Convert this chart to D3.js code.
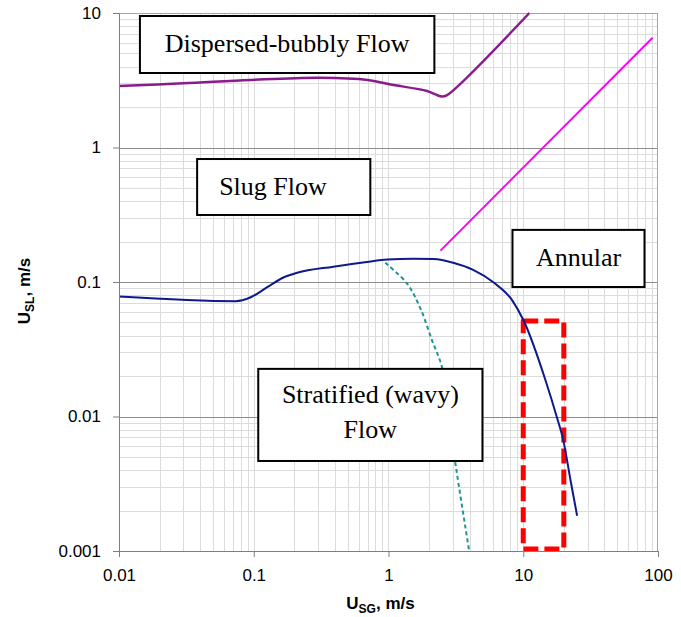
<!DOCTYPE html>
<html>
<head>
<meta charset="utf-8">
<script src="https://cdn.jsdelivr.net/npm/d3@7"></script>
<style>
  body { margin: 0; background: #fff; }
</style>
</head>
<body>
<div id="chart"></div>
<script>
// boundary curves (USG, USL in m/s)
const bubblyX = [0.01, 0.03, 0.095, 0.31, 0.7, 1.02, 1.93, 2.23, 2.5, 2.72, 11.1];
const bubblyY = [2.87, 3.0, 3.18, 3.3, 3.18, 2.95, 2.63, 2.48, 2.39, 2.45, 10];

const annularX = [2.43, 91.2];
const annularY = [0.171, 6.55];

const stratX = [0.01, 0.0735, 0.095, 0.126, 0.166, 0.21, 0.39, 0.69, 0.98, 1.53, 2.15, 3.02, 4.25, 6.0, 8.26, 10.1, 14.6, 17.7, 19.8, 22.5, 25.1];
const stratY = [0.078, 0.072, 0.077, 0.0915, 0.108, 0.117, 0.13, 0.141, 0.147, 0.149, 0.148, 0.139, 0.123, 0.0995, 0.0734, 0.0513, 0.0187, 0.01, 0.0067, 0.0033, 0.00183];

const wavyX = [0.946, 1.37, 1.72, 2.1, 2.49, 2.8, 3.11, 3.97];
const wavyY = [0.139, 0.0977, 0.064, 0.037, 0.0234, 0.0103, 0.00475, 0.001];

const xTicks = [0.01, 0.1, 1, 10, 100];
const yTicks = [0.001, 0.01, 0.1, 1, 10];
const xTickLabels = ["0.01", "0.1", "1", "10", "100"];
const yTickLabels = ["0.001", "0.01", "0.1", "1", "10"];

// region labels: [x0, x1, yTop, yBottom] in data units
const regionNames = [["Dispersed-bubbly Flow"], ["Slug Flow"], ["Annular"], ["Stratified (wavy)", "Flow"]];
const regionBoxes = [[0.0143, 2.19, 9.5, 3.58], [0.038, 0.733, 0.821, 0.315], [8.32, 79.4, 0.244, 0.0918], [0.108, 4.98, 0.0226, 0.00467]];
const highlightBox = [10, 20, 0.0513, 0.001];

const margin = {top: 13, right: 23, bottom: 66, left: 119},
      width = 681 - margin.left - margin.right,
      height = 617 - margin.top - margin.bottom;

const svg = d3.select("#chart")
  .append("svg")
  .attr("width", width + margin.left + margin.right)
  .attr("height", height + margin.top + margin.bottom)
  .append("g")
  .attr("transform", `translate(${margin.left},${margin.top})`);

const x = d3.scaleLog().domain([0.01, 100]).range([0, width]);
const y = d3.scaleLog().domain([0.001, 10]).range([height, 0]);

// minor grid values 2..9 in every decade
const minorX = [], minorY = [];
[0.01, 0.1, 1, 10].forEach(d => d3.range(2, 10).forEach(k => minorX.push(d * k)));
[0.001, 0.01, 0.1, 1].forEach(d => d3.range(2, 10).forEach(k => minorY.push(d * k)));

const grid = svg.append("g").attr("shape-rendering", "crispEdges");
grid.selectAll(".vminor").data(minorX.concat([0.1, 1, 10])).join("line")
  .attr("x1", d => Math.round(x(d)) + 0.5).attr("x2", d => Math.round(x(d)) + 0.5)
  .attr("y1", 0).attr("y2", height)
  .attr("stroke", "#dcdcdc").attr("stroke-width", 1);
grid.selectAll(".hminor").data(minorY).join("line")
  .attr("y1", d => Math.round(y(d)) + 0.5).attr("y2", d => Math.round(y(d)) + 0.5)
  .attr("x1", 0).attr("x2", width)
  .attr("stroke", "#dcdcdc").attr("stroke-width", 1);
grid.selectAll(".hmajor").data([0.01, 0.1, 1]).join("line")
  .attr("y1", d => Math.round(y(d)) + 0.5).attr("y2", d => Math.round(y(d)) + 0.5)
  .attr("x1", 0).attr("x2", width)
  .attr("stroke", "#8c8c8c").attr("stroke-width", 1);

// frame: top and right
grid.append("path")
  .attr("d", `M0,0.5H${width - 0.5}V${height}`)
  .attr("fill", "none").attr("stroke", "#a6a6a6");

const line = d3.line()
  .x(d => x(d[0]))
  .y(d => y(d[1]))
  .curve(d3.curveMonotoneX);

// stratified / intermittent dashed boundary (under the label box)
svg.append("path")
  .datum(wavyX.map((v, i) => [v, wavyY[i]]))
  .attr("fill", "none")
  .attr("stroke", "#1a9696")
  .attr("stroke-width", 2)
  .attr("stroke-dasharray", "4,3")
  .attr("d", d3.line().x(d => x(d[0])).y(d => y(d[1])).curve(d3.curveCatmullRom));

svg.append("path")
  .datum(bubblyX.map((v, i) => [v, bubblyY[i]]))
  .attr("fill", "none")
  .attr("stroke", "#8b1a8b")
  .attr("stroke-width", 2.5)
  .attr("d", d3.line().x(d => x(d[0])).y(d => y(d[1])).curve(d3.curveCatmullRom.alpha(0.5)));

svg.append("path")
  .datum(annularX.map((v, i) => [v, annularY[i]]))
  .attr("fill", "none")
  .attr("stroke", "#ff00ff")
  .attr("stroke-width", 2)
  .attr("d", line);

// region label boxes
const boxes = svg.append("g");
regionBoxes.forEach((b, i) => {
  const x0 = x(b[0]), x1 = x(b[1]), y0 = y(b[2]), y1 = y(b[3]);
  boxes.append("rect")
    .attr("x", x0).attr("y", y0)
    .attr("width", x1 - x0).attr("height", y1 - y0)
    .attr("fill", "#fff").attr("stroke", "#000").attr("stroke-width", 2);
  const lines = regionNames[i];
  const cx = i === 1 ? x0 + 22 : (x0 + x1) / 2;
  const cy = (y0 + y1) / 2;
  const step = 35;
  lines.forEach((t, j) => {
    boxes.append("text")
      .attr("x", cx)
      .attr("y", cy + 8 + (j - (lines.length - 1) / 2) * step - (lines.length > 1 ? 2 : 0))
      .attr("text-anchor", i === 1 ? "start" : "middle")
      .style("font-family", "'Liberation Serif', 'Times New Roman', serif")
      .style("font-size", "26px")
      .text(t);
  });
});

// red dashed highlight
svg.append("rect")
  .attr("x", x(highlightBox[0]))
  .attr("y", y(highlightBox[2]))
  .attr("width", x(highlightBox[1]) - x(highlightBox[0]))
  .attr("height", y(highlightBox[3]) - y(highlightBox[2]) - 2)
  .attr("fill", "none")
  .attr("stroke", "#ff0000")
  .attr("stroke-width", 5)
  .attr("stroke-linejoin", "round")
  .attr("stroke-dasharray", "15,6");

svg.append("path")
  .datum(stratX.map((v, i) => [v, stratY[i]]))
  .attr("fill", "none")
  .attr("stroke", "#0d1a8c")
  .attr("stroke-width", 2)
  .attr("d", line);

// axes
const xAxis = svg.append("g")
  .attr("transform", `translate(0,${height})`)
  .call(d3.axisBottom(x).tickValues(xTicks).tickFormat((d, i) => xTickLabels[i]).tickSize(6).tickPadding(12));
const yAxis = svg.append("g")
  .call(d3.axisLeft(y).tickValues(yTicks).tickFormat((d, i) => yTickLabels[i]).tickSize(6).tickPadding(12));

[xAxis, yAxis].forEach(a => {
  a.select(".domain").attr("stroke", "#7f7f7f");
  a.selectAll(".tick line").attr("stroke", "#7f7f7f");
  a.selectAll("text")
    .style("font-family", "'Liberation Sans', Arial, sans-serif")
    .style("font-size", "17px")
    .attr("fill", "#000");
});

const titleFont = "'Liberation Sans', Arial, sans-serif";
const xTitle = svg.append("text")
  .attr("x", width / 2 - 8)
  .attr("y", height + 58)
  .attr("text-anchor", "middle")
  .style("font-family", titleFont)
  .style("font-weight", "bold")
  .style("font-size", "17px");
xTitle.append("tspan").text("U");
xTitle.append("tspan").attr("dy", 4).style("font-size", "12px").text("SG");
xTitle.append("tspan").attr("dy", -4).text(", m/s");

const yTitle = svg.append("text")
  .attr("transform", `translate(${-margin.left + 30},${height / 2 + 9}) rotate(-90)`)
  .attr("text-anchor", "middle")
  .style("font-family", titleFont)
  .style("font-weight", "bold")
  .style("font-size", "17px");
yTitle.append("tspan").text("U");
yTitle.append("tspan").attr("dy", 4).style("font-size", "12px").text("SL");
yTitle.append("tspan").attr("dy", -4).text(", m/s");
</script>
</body>
</html>
